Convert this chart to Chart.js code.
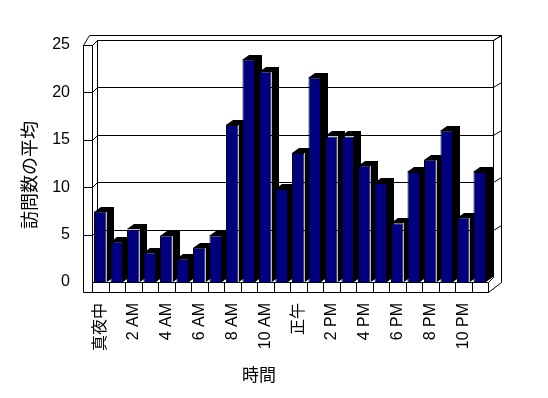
<!DOCTYPE html>
<html><head><meta charset="utf-8">
<script src="https://cdn.jsdelivr.net/npm/chart.js@4.4.1/dist/chart.umd.min.js"></script>
<style>html,body{margin:0;padding:0;background:#fff;}#wrap{width:548px;height:398px;}</style>
</head><body><div id="wrap"><canvas id="c" width="548" height="398"></canvas></div>
<script>
const categories = ['真夜中','1 AM','2 AM','3 AM','4 AM','5 AM','6 AM','7 AM','8 AM','9 AM','10 AM','11 AM',
  '正午','1 PM','2 PM','3 PM','4 PM','5 PM','6 PM','7 PM','8 PM','9 PM','10 PM','11 PM'];
const visitAverages = [7.4, 4.25, 5.55, 3.1, 4.9, 2.45, 3.6, 4.9, 16.55, 23.45, 22.2, 9.8,
  13.6, 21.55, 15.35, 15.35, 12.25, 10.45, 6.2, 11.6, 12.9, 15.95, 6.8, 11.6];
const yTicks = [0, 5, 10, 15, 20, 25];
const xTitle = '時間';
const yTitle = '訪問数の平均';

const FONT = "'Liberation Sans', 'Noto Sans CJK JP', sans-serif";
const CJK = "'Noto Sans CJK JP', sans-serif";

const frame3d = {
  id: 'frame3d',
  beforeDatasetsDraw(chart) {
    const ctx = chart.ctx;
    const a = chart.chartArea;
    const ys = chart.scales.y;
    const xs = chart.scales.x;
    const L = Math.round(a.left), R = Math.round(a.right), T = Math.round(a.top), B = Math.round(a.bottom);
    const dx = 5, dy = -5, W = 9;
    const p = v => Math.round(v) + 0.5;
    ctx.save();
    ctx.strokeStyle = '#000';
    ctx.lineWidth = 1;
    const line = pts => { ctx.beginPath(); ctx.moveTo(p(pts[0][0]), p(pts[0][1])); for (let i = 1; i < pts.length; i++) ctx.lineTo(p(pts[i][0]), p(pts[i][1])); ctx.stroke(); };
    // gridlines on back wall + ticks on left wall
    yTicks.forEach(v => {
      const y = ys.getPixelForValue(v);
      if (v === 0) return;
      line([[L - W, y], [L, y], [L + dx, y + dy], [R + dx, y + dy], [R + dx + 8, y + dy - 5]]);
    });
    // left wall
    line([[L - W, T], [L - W, B + 10]]);
    line([[L, T], [L, B]]);
    line([[L + dx, T + dy], [L + dx, B + dy]]);
    line([[L - W, T], [L - W + 6, T - 10], [R + dx + 8, T - 10], [R + dx + 8, B]]);
    line([[L, T], [L + dx, T + dy], [R + dx, T + dy], [R + dx + 8, T - 10]]);
    line([[R + dx, T + dy], [R + dx, B + dy]]);
    // floor
    line([[L, B], [R, B], [R + dx, B + dy]]);
    line([[L - W, B + 10], [R, B + 10], [R + dx + 8, B]]);
    line([[R, B], [R, B + 10]]);
    const n = categories.length;
    for (let i = 0; i < n; i++) {
      const xb = xs.getPixelForValue(i) - (R - L) / n / 2;
      line([[xb, B], [xb, B + 10]]);
    }
    // bar depth faces
    ctx.fillStyle = '#000';
    const meta = chart.getDatasetMeta(0);
    const bdx = 7, bdy = -5;
    meta.data.forEach(el => {
      const {x, y, base, width} = el.getProps(['x', 'y', 'base', 'width'], true);
      const l = Math.round(x - width / 2), r = Math.round(x + width / 2), t = Math.round(y), b = Math.round(base);
      ctx.beginPath();
      ctx.moveTo(l, t); ctx.lineTo(l + bdx, t + bdy); ctx.lineTo(r + bdx, t + bdy);
      ctx.lineTo(r + bdx, b + bdy); ctx.lineTo(r, b); ctx.lineTo(r, t); ctx.closePath();
      ctx.fill();
    });
    ctx.restore();
  },
  afterDraw(chart) {
    const ctx = chart.ctx;
    ctx.save();
    ctx.fillStyle = '#000';
    ctx.textAlign = 'center';
    ctx.textBaseline = 'middle';
    ctx.font = "17px " + CJK;
    ctx.fillText(xTitle, 259, 375);
    ctx.font = "18px " + CJK;
    ctx.translate(29, 175);
    ctx.rotate(-Math.PI / 2);
    ctx.fillText(yTitle, 0, 0);
    ctx.restore();
  }
};

new Chart(document.getElementById('c'), {
  type: 'bar',
  data: {
    labels: categories,
    datasets: [{
      data: visitAverages,
      backgroundColor: '#000080',
      borderColor: '#000000',
      borderWidth: 1,
      barPercentage: 0.76,
      categoryPercentage: 1.0
    }]
  },
  options: {
    responsive: false,
    devicePixelRatio: 1,
    animation: false,
    layout: { padding: { left: 0, top: 45, right: 60, bottom: 0 } },
    plugins: { legend: { display: false }, tooltip: { enabled: false } },
    scales: {
      x: {
        type: 'category',
        offset: true,
        grid: { display: false, drawTicks: false },
        border: { display: false },
        ticks: {
          autoSkip: false, maxRotation: 90, minRotation: 90, padding: 21,
          color: '#000', font: { family: FONT, size: 16 },
          callback: (v, i) => (i % 2 === 0 ? categories[i] : '')
        },
        afterFit: s => { s.height = 116; }
      },
      y: {
        min: 0, max: 25,
        grid: { display: false, drawTicks: false },
        border: { display: false },
        ticks: { stepSize: 5, padding: 22, color: '#000', font: { family: FONT, size: 16 } },
        afterFit: s => { s.width = 92; }
      }
    }
  },
  plugins: [frame3d]
});
</script>
</body></html>
